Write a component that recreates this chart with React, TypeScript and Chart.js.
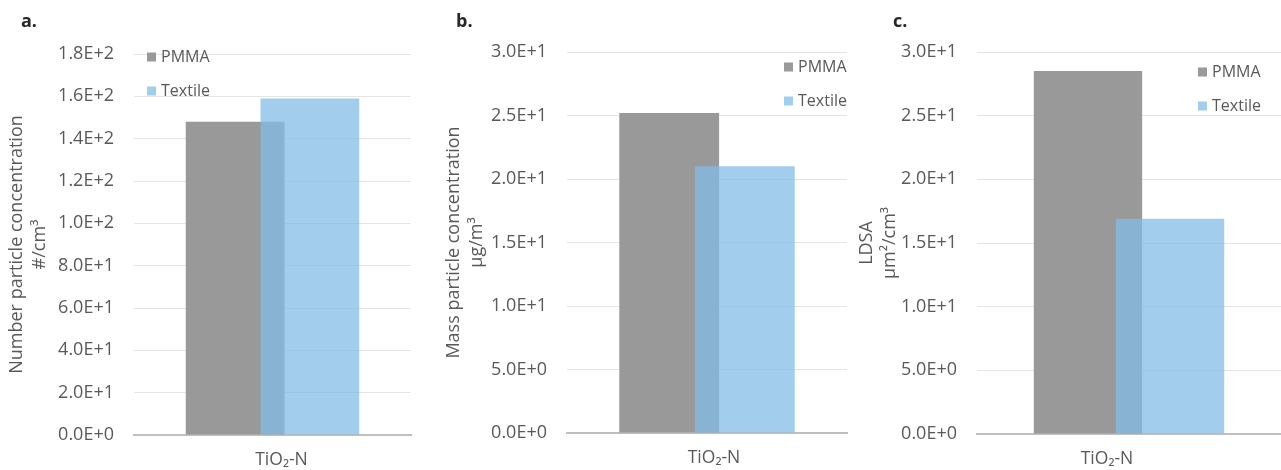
import React, { useEffect, useRef } from 'react';
import { Chart, registerables } from 'chart.js';

Chart.register(...registerables);

// ---------- data ----------
const categories = ['TiO₂-N'];
const seriesNames = ['PMMA', 'Textile'];

const pmmaNumber = [148];
const textileNumber = [159];
const pmmaMass = [25.2];
const textileMass = [21.0];
const pmmaLdsa = [28.5];
const textileLdsa = [16.9];

const numberTickLabels = ['0.0E+0', '2.0E+1', '4.0E+1', '6.0E+1', '8.0E+1', '1.0E+2', '1.2E+2', '1.4E+2', '1.6E+2', '1.8E+2'];
const massTickLabels = ['0.0E+0', '5.0E+0', '1.0E+1', '1.5E+1', '2.0E+1', '2.5E+1', '3.0E+1'];
const ldsaTickLabels = ['0.0E+0', '5.0E+0', '1.0E+1', '1.5E+1', '2.0E+1', '2.5E+1', '3.0E+1'];

const numberAxisMax = 180;
const numberAxisStep = 20;
const massAxisMax = 30;
const massAxisStep = 5;
const ldsaAxisMax = 30;
const ldsaAxisStep = 5;

const panelLetters = ['a.', 'b.', 'c.'];
const numberTitle = ['Number particle concentration', '#/cm³'];
const massTitle = ['Mass particle concentration', 'µg/m³'];
const ldsaTitle = ['LDSA', 'µm²/cm³'];

// ---------- styles ----------
const FONT = "'Open Sans', 'DejaVu Sans', sans-serif";
const TEXT_COLOR = '#595959';
const PMMA_COLOR = '#999999';
const TEXTILE_COLOR = 'rgba(132, 188, 230, 0.75)';
const H = 470;

const panels = [
  {
    letter: panelLetters[0], pmma: pmmaNumber, textile: textileNumber, ticks: numberTickLabels,
    max: numberAxisMax, step: numberAxisStep, title: numberTitle,
    left: 0, width: 427, plotLeft: 134, plotRight: 411, plotTop: 54, plotBottom: 435,
    titleLeft: 5.5, legendX: 147, legendY: 57, letterX: 21, labelOffset: 9,
  },
  {
    letter: panelLetters[1], pmma: pmmaMass, textile: textileMass, ticks: massTickLabels,
    max: massAxisMax, step: massAxisStep, title: massTitle,
    left: 427, width: 428, plotLeft: 140, plotRight: 420, plotTop: 52, plotBottom: 433,
    titleLeft: 15.5, legendX: 357, legendY: 67, letterX: 29, labelOffset: 7,
  },
  {
    letter: panelLetters[2], pmma: pmmaLdsa, textile: textileLdsa, ticks: ldsaTickLabels,
    max: ldsaAxisMax, step: ldsaAxisStep, title: ldsaTitle,
    left: 855, width: 426, plotLeft: 122, plotRight: 426, plotTop: 52, plotBottom: 434,
    titleLeft: 0.5, legendX: 343, legendY: 72, letterX: 38, labelOffset: -22,
  },
];

// draw datasets in index order so the Textile bar sits over the PMMA bar
const drawOrderPlugin = {
  id: 'drawOrder',
  beforeDatasetsDraw(chart: any) {
    chart.data.datasets.forEach((_: any, i: number) => {
      const meta = chart.getDatasetMeta(i);
      if (!meta.hidden) meta.controller.draw();
    });
    return false;
  },
};

const decorPlugin = {
  id: 'decor',
  afterDraw(chart: any, _args: any, opts: any) {
    const ctx = chart.ctx;
    ctx.save();
    // panel letter
    ctx.fillStyle = '#262626';
    ctx.font = `bold 18px ${FONT}`;
    ctx.textAlign = 'left';
    ctx.textBaseline = 'middle';
    ctx.fillText(opts.letter, opts.letterX, 22);
    // legend
    ctx.font = `16px ${FONT}`;
    chart.data.datasets.forEach((ds: any, i: number) => {
      const y = opts.legendY + i * 34;
      ctx.fillStyle = ds.backgroundColor;
      ctx.fillRect(opts.legendX, y - 4.5, 9, 9);
      ctx.fillStyle = TEXT_COLOR;
      ctx.fillText(ds.label, opts.legendX + 14, y);
    });
    ctx.restore();
  },
};

function Panel({ p }: { p: any }) {
  const ref = useRef<HTMLCanvasElement>(null);
  useEffect(() => {
    if (!ref.current) return;
    const chart = new Chart(ref.current, {
      type: 'bar',
      data: {
        labels: categories,
        datasets: [
          { label: seriesNames[0], data: p.pmma, backgroundColor: PMMA_COLOR, borderWidth: 0 },
          { label: seriesNames[1], data: p.textile, backgroundColor: TEXTILE_COLOR, borderWidth: 0 },
        ],
      },
      options: {
        animation: false,
        responsive: false,
        maintainAspectRatio: false,
        devicePixelRatio: 1,
        datasets: {
          bar: { categoryPercentage: 0.54, barPercentage: 1.32 },
        },
        layout: {
          padding: { left: p.titleLeft, right: p.width - p.plotRight, top: p.plotTop, bottom: 0 },
        },
        plugins: {
          legend: { display: false },
          tooltip: { enabled: false },
          decor: { letter: p.letter, letterX: p.letterX, legendX: p.legendX, legendY: p.legendY },
        } as any,
        scales: {
          x: {
            type: 'category',
            offset: true,
            grid: { drawOnChartArea: false, drawTicks: false },
            border: { display: true, color: '#bfbfbf', width: 2 },
            ticks: {
              padding: 15,
              labelOffset: p.labelOffset,
              color: TEXT_COLOR,
              font: { family: FONT, size: 17.5 },
            },
            afterFit: (s: any) => { s.height = H - p.plotBottom; },
          },
          y: {
            type: 'linear',
            min: 0,
            max: p.max,
            ticks: {
              stepSize: p.step,
              padding: 20,
              autoSkip: false,
              color: TEXT_COLOR,
              font: { family: FONT, size: 18 },
              callback: (_v: any, i: number) => p.ticks[i],
            },
            grid: {
              drawTicks: false,
              lineWidth: 1,
              color: (c: any) => (c.tick && c.tick.value === 0 ? 'rgba(0,0,0,0)' : '#e4e4e4'),
            },
            border: { display: false },
            title: {
              display: true,
              text: p.title,
              color: TEXT_COLOR,
              padding: 0,
              font: { family: FONT, size: 18, lineHeight: 23 / 18 },
            },
            afterFit: (s: any) => { s.width = p.plotLeft - p.titleLeft; },
          },
        },
      },
      plugins: [drawOrderPlugin, decorPlugin],
    } as any);
    return () => chart.destroy();
  }, []);
  return (
    <div style={{ position: 'absolute', left: p.left, top: 0, width: p.width, height: H }}>
      <canvas ref={ref} width={p.width} height={H} style={{ display: 'block', width: p.width, height: H }} />
    </div>
  );
}

export default function App() {
  return (
    <div style={{ position: 'absolute', left: 0, top: 0, width: 1281, height: H, background: '#ffffff' }}>
      {panels.map((p, i) => (
        <Panel key={i} p={p} />
      ))}
    </div>
  );
}
